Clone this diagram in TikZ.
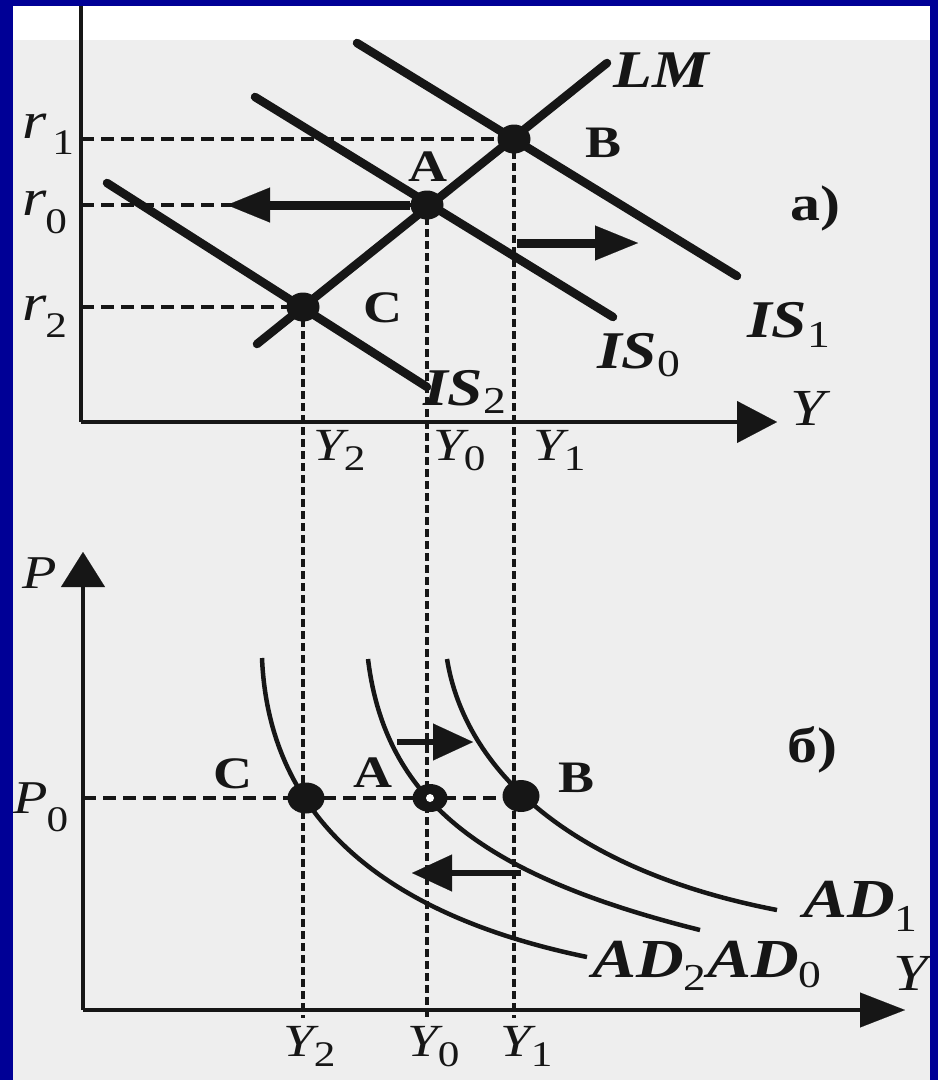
\documentclass[tikz,border=0pt]{standalone}
\usepackage{fontspec}
\setmainfont{Liberation Serif}[FakeStretch=1.2]
\usetikzlibrary{arrows.meta,shapes.geometric}
\definecolor{frameblue}{RGB}{0,0,150}
\definecolor{paper}{RGB}{238,238,238}
\definecolor{ink}{RGB}{22,22,22}
\newcommand{\sbs}[3]{\raisebox{-#3pt}{\fontsize{#1pt}{#1pt}\selectfont\upshape\mdseries #2}}
\newcommand{\fs}[1]{\fontsize{#1pt}{#1pt}\selectfont}
\begin{document}
\begin{tikzpicture}[x=1pt,y=-1pt,
  axisline/.style={draw=ink,line width=3.5pt},
  iscurve/.style={draw=ink,line width=8.5pt,line cap=round},
  adcurve/.style={draw=ink,line width=4.5pt},
  vguide/.style={draw=ink,line width=3.5pt,dash pattern=on 8pt off 4pt},
  hguide/.style={draw=ink,line width=3.5pt,dash pattern=on 13pt off 7pt},
  eqdot/.style={ellipse,fill=ink,inner sep=0pt,minimum width=33pt,minimum height=29pt},
  bigdot/.style={eqdot,minimum width=37pt,minimum height=31pt},
  shiftarrow/.style={draw=ink,line width=9pt,-{Triangle[length=43pt,width=35pt,line width=0.1pt]}},
  smallarrow/.style={draw=ink,line width=6.5pt,-{Triangle[length=40pt,width=37pt,line width=0.1pt]}},
  lbl/.style={text=ink,inner sep=0pt,anchor=base west},
  varlabel/.style={lbl,font=\fs{52}\itshape},
  ylabel/.style={lbl,font=\fs{46}\itshape},
  ptlabel/.style={lbl,font=\fs{45}\bfseries},
  curvelabel/.style={lbl,font=\fs{53}\bfseries\itshape},
  adlabel/.style={lbl,font=\fs{55}\bfseries\itshape},
  panellabel/.style={lbl,font=\fs{50}\bfseries}
]
\useasboundingbox (0,0) rectangle (938,1080);
\fill[paper] (0,0) rectangle (938,1080);
\fill[white] (0,0) rectangle (938,40);

% ---------- coordinates ----------
\coordinate (o1) at (81,422);
\coordinate (t1) at (81,0);
\coordinate (x1) at (777,422);
\coordinate (o2) at (83,1010);
\coordinate (t2) at (83,552);
\coordinate (x2) at (905,1010);
\coordinate (ybot) at (0,1018);
\coordinate (r1a) at (81,139);
\coordinate (r0a) at (81,205);
\coordinate (r2a) at (81,307);
\coordinate (p0a) at (83,798);
\coordinate (lms) at (257,344);
\coordinate (lme) at (607,63);
\coordinate (is0s) at (255,97);
\coordinate (is0e) at (613,317);
\coordinate (is1s) at (357,43);
\coordinate (is1e) at (737,276);
\coordinate (is2s) at (107,183);
\coordinate (is2e) at (427,387);
\coordinate (lt) at (227,205);
\coordinate (ra) at (517,243);
\coordinate (rt) at (638,243);
\coordinate (ba1) at (397,742);
\coordinate (ba2) at (473,742);
\coordinate (bb1) at (521,873);
\coordinate (bb2) at (412,873);

% ---------- points (dots drawn later) ----------
\path (427,205) coordinate (Apos) (514,139) coordinate (Bpos) (303,307) coordinate (Cpos);
\path (306,798) coordinate (Cbpos) (430,798) coordinate (Abpos) (521,796) coordinate (Bbpos);

% ---------- axes ----------
\draw[axisline] (t1) -- (o1);
\draw[axisline,-{Triangle[length=40pt,width=42pt,line width=0.1pt]}] (o1) -- (x1);
\draw[axisline,-{Triangle[length=35pt,width=44pt,line width=0.1pt]}] (o2) -- (t2);
\draw[axisline,-{Triangle[length=45pt,width=35pt,line width=0.1pt]}] (o2) -- (x2);

% ---------- guides ----------
\draw[hguide] (r1a) -- (r1a -| Bpos);
\draw[hguide] (r0a) -- (r0a -| Apos);
\draw[hguide] (r2a) -- (r2a -| Cpos);
\draw[hguide] (p0a) -- (p0a -| Bbpos);
\draw[vguide] (Cpos) -- (Cpos |- ybot);
\draw[vguide] (Apos) -- (Apos |- ybot);
\draw[vguide] (Bpos) -- (Bpos |- ybot);

% ---------- IS-LM ----------
\draw[iscurve] (lms) -- (lme);
\draw[iscurve] (is0s) -- (is0e);
\draw[iscurve] (is1s) -- (is1e);
\draw[iscurve] (is2s) -- (is2e);

% ---------- AD ----------
\draw[adcurve] (262,658) .. controls (268,800) and (360,910) .. (587,957);
\draw[adcurve] (368,659) .. controls (385,799) and (480,875) .. (700,930);
\draw[adcurve] (447,659) .. controls (465,770) and (570,870) .. (777,910);

% ---------- dots ----------
\node[eqdot] (A) at (Apos) {};
\node[eqdot] (B) at (Bpos) {};
\node[eqdot] (C) at (Cpos) {};
\node[bigdot] (Cb) at (Cbpos) {};
\node[eqdot,minimum width=35pt,minimum height=28pt] (Ab) at (Abpos) {};
\fill[white] (Abpos) circle (4pt);
\node[bigdot,minimum height=32pt] (Bb) at (Bbpos) {};

% ---------- shift arrows ----------
\draw[shiftarrow] (A) -- (lt);
\draw[shiftarrow] (ra) -- (rt);
\draw[smallarrow] (ba1) -- (ba2);
\draw[smallarrow] (bb1) -- (bb2);

% ---------- labels (top) ----------
\node[varlabel] (r1l) at (22,138) {r\kern6pt\sbs{36}{1}{16}};
\node[varlabel] (r0l) at (22,215) {r\kern-1pt\sbs{36}{0}{18}};
\node[varlabel] (r2l) at (22,320) {r\kern-1pt\sbs{36}{2}{17}};
\node[varlabel] (yt) at (790,425) {Y};
\node[ylabel] (y2t) at (313,460) {Y\sbs{36}{2}{10}};
\node[ylabel] (y0t) at (433,460) {Y\sbs{36}{0}{10}};
\node[ylabel] (y1t) at (533,460) {Y\sbs{36}{1}{10}};
\node[curvelabel] (lml) at (613,87) {LM};
\node[curvelabel] (is1l) at (747,337) {IS\sbs{38}{1}{10}};
\node[curvelabel] (is0l) at (597,368) {IS\sbs{38}{0}{8}};
\node[curvelabel] (is2l) at (423,405) {IS\sbs{38}{2}{8}};
\node[ptlabel] (Al) at (408,181) {A};
\node[ptlabel] (Bl) at (585,157) {B};
\node[ptlabel] (Cl) at (363,322) {C};
\node[panellabel] (pa) at (790,220) {a)};

% ---------- labels (bottom) ----------
\node[varlabel,font=\fs{47}\itshape] (pl) at (22,588) {P};
\node[varlabel,font=\fs{47}\itshape] (p0l) at (13,813) {P\kern-1pt\sbs{36}{0}{18}};
\node[varlabel] (yb) at (893,990) {Y};
\node[ylabel] (y2b) at (283,1056) {Y\sbs{36}{2}{10}};
\node[ylabel] (y0b) at (407,1056) {Y\sbs{36}{0}{10}};
\node[ylabel] (y1b) at (500,1056) {Y\sbs{36}{1}{10}};
\node[ptlabel] (Cbl) at (213,788) {C};
\node[ptlabel] (Abl) at (353,787) {A};
\node[ptlabel] (Bbl) at (558,792) {B};
\node[panellabel] (pb) at (787,762) {б)};
\node[adlabel] (ad1l) at (803,917) {AD\sbs{38}{1}{14}};
\node[adlabel] (ad2l) at (592,977) {AD\sbs{38}{2}{13}};
\node[adlabel] (ad0l) at (ad2l.base east) {AD\sbs{38}{0}{10}};

% ---------- frame ----------
\fill[frameblue] (0,0) rectangle (13,1080);
\fill[frameblue] (0,0) rectangle (938,6);
\fill[frameblue] (930,0) rectangle (938,1080);
\end{tikzpicture}
\end{document}
